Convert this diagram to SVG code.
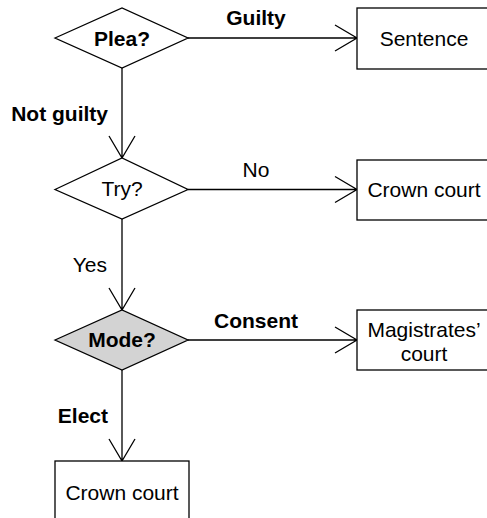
<svg xmlns="http://www.w3.org/2000/svg" width="487" height="518" viewBox="0 0 487 518">
<style>
.shape{fill:#ffffff;stroke:#000000;stroke-width:1.3}
.grey{fill:#d3d3d3;stroke:#000000;stroke-width:1.3}
.edge{fill:none;stroke:#000000;stroke-width:1.3}
text{font-family:"Liberation Sans",Arial,sans-serif;font-size:21px;fill:#000000}
.b{font-weight:bold}
.c{text-anchor:middle}
.r{text-anchor:end}
</style>
<rect width="487" height="518" fill="#ffffff"/>
<g id="connectors">
  <path class="edge" d="M188,38 H357 M335,25 L357,38 L335,51"/>
  <path class="edge" d="M122,68 V158 M109,136 L122,158 L135,136"/>
  <path class="edge" d="M188,189.5 H357 M335,176.5 L357,189.5 L335,202.5"/>
  <path class="edge" d="M122,219 V310 M109,288 L122,310 L135,288"/>
  <path class="edge" d="M188,340 H357 M335,327 L357,340 L335,353"/>
  <path class="edge" d="M122,370 V461 M109,439 L122,461 L135,439"/>
  <text class="b c" x="256" y="25">Guilty</text>
  <text class="b r" x="108" y="121">Not guilty</text>
  <text class="c" x="256" y="177">No</text>
  <text class="r" x="107" y="272">Yes</text>
  <text class="b c" x="256" y="328">Consent</text>
  <text class="b r" x="108" y="423">Elect</text>
</g>
<g id="plea">
  <polygon class="shape" points="55,38 122,8 188,38 122,68"/>
  <text class="b c" x="122" y="46">Plea?</text>
</g>
<g id="sentence">
  <rect class="shape" x="357" y="8" width="134" height="61"/>
  <text class="c" x="424" y="46">Sentence</text>
</g>
<g id="try">
  <polygon class="shape" points="55,189.5 122,158 188,189.5 122,219"/>
  <text class="c" x="122" y="196">Try?</text>
</g>
<g id="crown1">
  <rect class="shape" x="357" y="160" width="134" height="60"/>
  <text class="c" x="424" y="197">Crown court</text>
</g>
<g id="mode">
  <polygon class="grey" points="55,340 122,310 188,340 122,370"/>
  <text class="b c" x="122" y="347">Mode?</text>
</g>
<g id="magistrates">
  <rect class="shape" x="357" y="310" width="134" height="60"/>
  <text class="c" x="424" y="337">Magistrates’</text>
  <text class="c" x="424" y="361">court</text>
</g>
<g id="crown2">
  <rect class="shape" x="55" y="461" width="134" height="62"/>
  <text class="c" x="122" y="500">Crown court</text>
</g>
</svg>
